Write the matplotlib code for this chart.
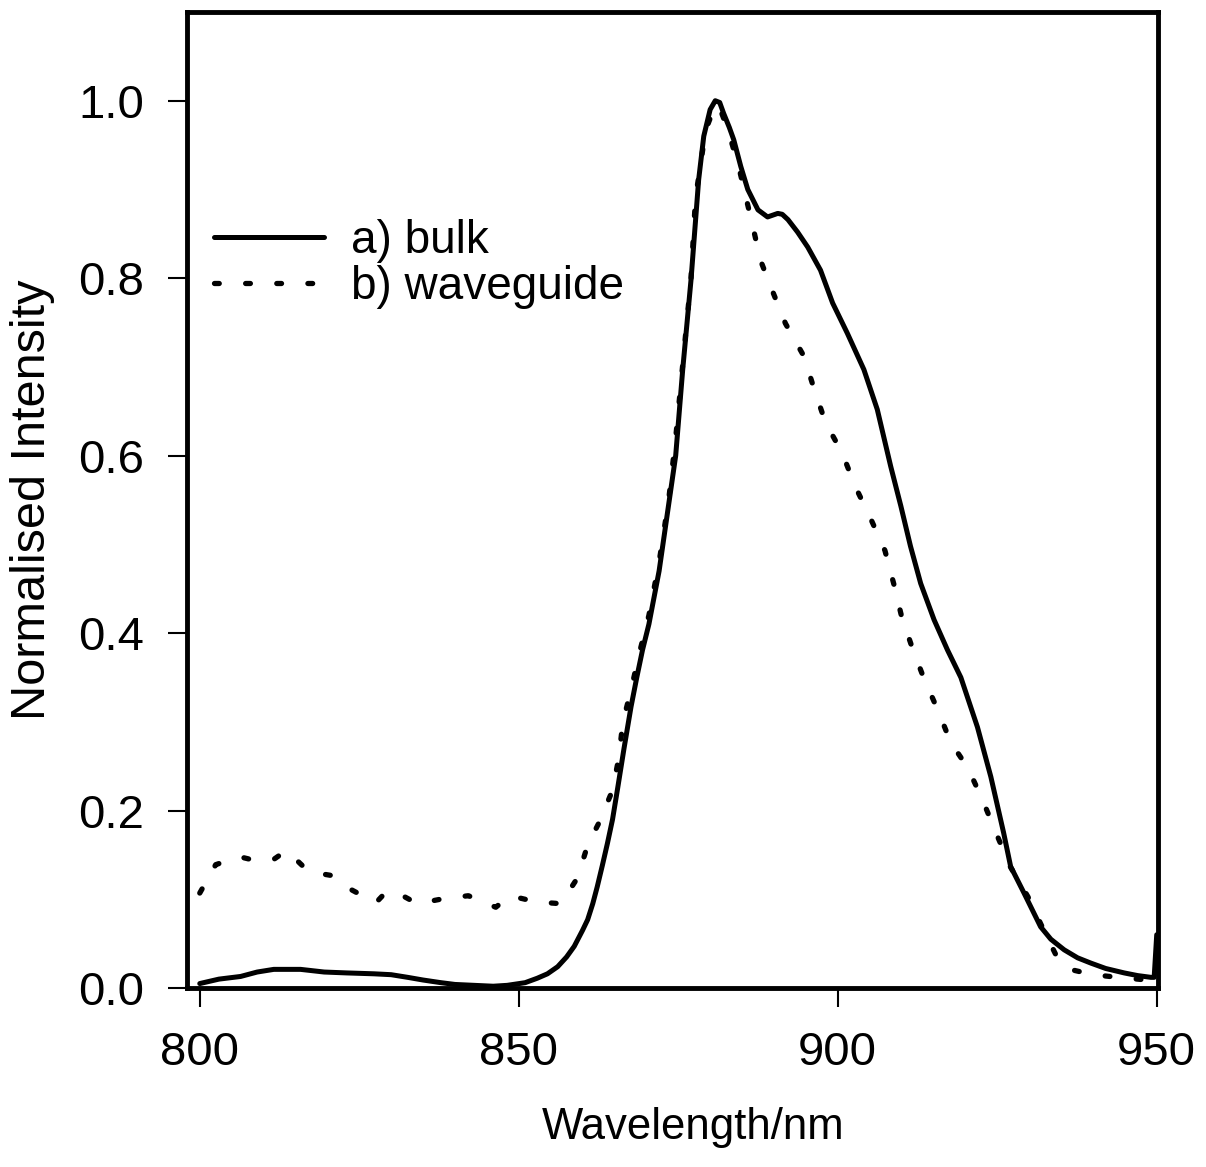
import matplotlib
matplotlib.use("Agg")
import matplotlib.pyplot as plt

plt.rcParams['font.family'] = ['Liberation Sans', 'DejaVu Sans']

# Bulk spectrum (solid)
bulk_wl = [800, 803, 806.4, 809, 811.6, 815.8, 819.5, 823, 827.3, 830, 832.6, 835,
           837.8, 840, 843, 846, 848.2, 851, 852.9, 854.5, 856.1, 857.5, 858.7, 860,
           860.8, 861.6, 862.3, 863.1, 863.9, 864.7, 865.5, 866.5, 867.6, 868.5, 869.4,
           870.4, 871.2, 872, 873, 873.8, 874.6, 875.7, 877, 878.2, 879, 880, 880.8,
           881.5, 882.1, 883, 883.7, 884.8, 885.9, 887.5, 889, 890.6, 891.3, 892.2,
           893.7, 895.3, 897.3, 899.2, 901.5, 904.1, 906.2, 908.3, 909.9, 911.4, 913,
           915.1, 917.2, 919.3, 921.9, 924, 926, 927.1, 929.2, 931.8, 933.4, 935.5,
           937.6, 939.7, 942, 944.9, 947, 949.1, 949.6, 950]
bulk_int = [0.005, 0.01, 0.013, 0.018, 0.021, 0.021, 0.018, 0.017, 0.016, 0.015, 0.012, 0.009,
            0.006, 0.004, 0.003, 0.002, 0.003, 0.006, 0.011, 0.016, 0.024, 0.035, 0.047, 0.065,
            0.077, 0.095, 0.114, 0.138, 0.163, 0.19, 0.225, 0.27, 0.317, 0.35, 0.381,
            0.41, 0.44, 0.47, 0.52, 0.56, 0.6, 0.697, 0.798, 0.911, 0.96, 0.99, 1.0,
            0.998, 0.986, 0.97, 0.956, 0.926, 0.9, 0.877, 0.869, 0.873, 0.872, 0.866,
            0.852, 0.835, 0.809, 0.772, 0.738, 0.697, 0.652, 0.588, 0.543, 0.498, 0.456,
            0.415, 0.381, 0.35, 0.294, 0.238, 0.175, 0.137, 0.107, 0.069, 0.055, 0.043,
            0.034, 0.028, 0.022, 0.017, 0.014, 0.012, 0.012, 0.06]

# Waveguide spectrum (dotted)
wg_wl = [800, 802.5, 806.2, 808.5, 811.6, 813.6, 817.1, 820.5, 823.7, 827.6, 829.3, 831.8,
         834.1, 837.7, 842.1, 846.4, 848.6, 852.8, 856.6, 859.2, 860.8, 862.7, 864.7, 865.7,
         866.3, 867.6, 869, 870.4, 872, 873.5, 874.6, 875.8, 877, 877.7, 879.3, 880.8,
         881.6, 882.8, 884.5, 886.7, 887.9, 889.8, 891.8, 894.7, 896.3, 898.1, 900.7,
         902.7, 905.1, 907.4, 908.8, 910, 911.7, 913.5, 915.7, 917.7, 920.4, 922.7,
         924.8, 927.1, 929.8, 932.3, 934.7, 937, 940, 944, 947, 950]
wg_int = [0.107, 0.139, 0.148, 0.144, 0.145, 0.155, 0.131, 0.127, 0.111, 0.096, 0.109, 0.104,
          0.095, 0.1, 0.104, 0.091, 0.104, 0.097, 0.095, 0.124, 0.161, 0.188, 0.223, 0.26,
          0.299, 0.336, 0.38, 0.42, 0.48, 0.55, 0.62, 0.71, 0.8, 0.89, 0.967, 0.995,
          0.99, 0.967, 0.925, 0.858, 0.82, 0.785, 0.749, 0.712, 0.675, 0.637, 0.603,
          0.566, 0.53, 0.493, 0.455, 0.419, 0.383, 0.349, 0.313, 0.277, 0.248, 0.212,
          0.175, 0.136, 0.103, 0.065, 0.03, 0.02, 0.015, 0.012, 0.01, 0.008]

labels = ['a) bulk', 'b) waveguide']
x_ticks = [800, 850, 900, 950]
y_ticks = [0.0, 0.2, 0.4, 0.6, 0.8, 1.0]

fig = plt.figure(figsize=(12.06, 11.67), dpi=100)
ax = fig.add_axes([187/1206, 1 - 988/1167, (1158-187)/1206, (988-12)/1167])

ax.plot(bulk_wl, bulk_int, color='black', lw=3.6, solid_joinstyle='round',
        solid_capstyle='round', label=labels[0])
ax.plot(wg_wl, wg_int, color='black', lw=3.8, linestyle=(0, (0.9, 5.0)),
        dash_capstyle='round', label=labels[1])

ax.set_xlim(798.0, 950.2)
ax.set_ylim(0, 1.1)
ax.set_xticks(x_ticks)
ax.set_xticklabels([str(t) for t in x_ticks])
ax.set_yticks(y_ticks)
ax.set_yticklabels([f"{t:.1f}" for t in y_ticks])
ax.tick_params(direction='out', length=14, width=1.5, labelsize=34, pad=17)

for s in ax.spines.values():
    s.set_linewidth(3.5)

ax.set_xlabel('Wavelength/nm', fontsize=31.5)
ax.set_ylabel('Normalised Intensity', fontsize=35)
ax.xaxis.set_label_coords(0.521, -0.122)
ax.yaxis.set_label_coords(-0.136, 0.5)

leg = ax.legend(loc='upper left', bbox_to_anchor=(0.028, 0.788), frameon=False,
                fontsize=33, handlelength=2.4, handletextpad=0.58,
                labelspacing=0.05, borderpad=0, borderaxespad=0)

fig.savefig('out.png', dpi=100)
